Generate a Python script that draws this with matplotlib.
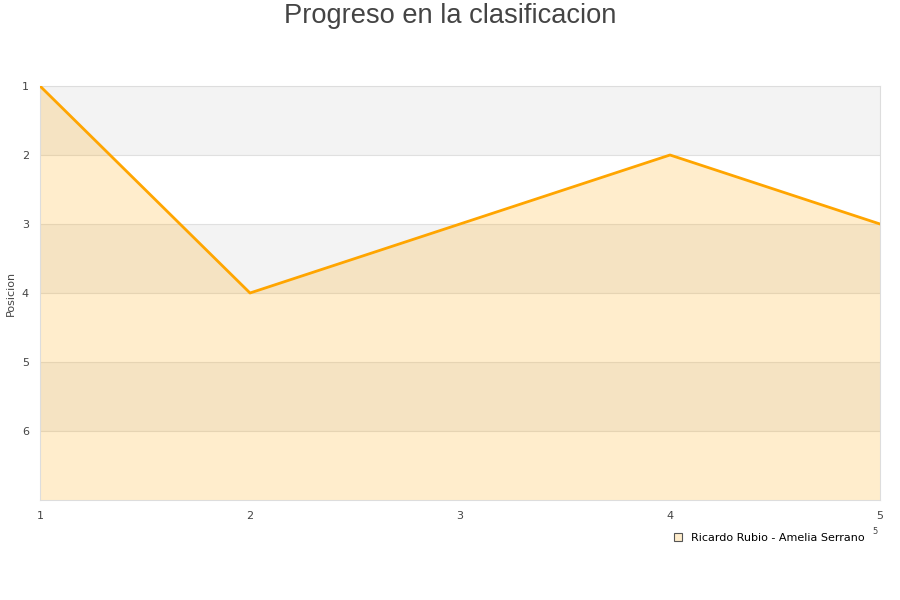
import numpy as np
import matplotlib.pyplot as plt

jornadas = [1, 2, 3, 4, 5]
posicion = [1, 4, 3, 2, 3]
serie = "Ricardo Rubio - Amelia Serrano"
y_ticks = [1, 2, 3, 4, 5, 6]

fig = plt.figure(figsize=(9, 6), dpi=100)
ax = fig.add_axes([40/900, 100/600, 840/900, 414/600])

# alternating bands
for i in range(1, 7, 2):
    ax.axhspan(i, i + 1, color='#f3f3f3', zorder=0, lw=0)
for t in y_ticks[1:]:
    ax.axhline(t, color='#e0e0e0', lw=0.8, zorder=1)

ax.fill_between(jornadas, posicion, 7, color='orange', alpha=0.2, lw=0, zorder=2)
ax.plot(jornadas, posicion, color='orange', lw=2, zorder=3)

ax.set_xlim(1, 5)
ax.set_ylim(7, 1)
ax.set_xticks(jornadas)
ax.set_yticks(y_ticks)
ax.tick_params(length=0, labelsize=8, labelcolor='#444444', pad=8)
for s in ax.spines.values():
    s.set_color('#dddddd')
ax.set_ylabel("Posicion", fontsize=8, color='#444444', va='center')
ax.yaxis.set_label_coords(-29/840, 0.5)

fig.text(0.5, 0.995, "Progreso en la clasificacion", ha='center', va='top',
         fontsize=19.6, color='#444444', family='Liberation Sans')

ax.legend([plt.Rectangle((0, 0), 1, 1, fc='#ffedcc', ec='#555555', lw=0.8)], [serie],
          loc='upper right', bbox_to_anchor=(0.994, -0.055), frameon=False,
          fontsize=8, handlelength=0.8, handleheight=0.8, handletextpad=0.8)
fig.text(875/900, 1 - 532/600, "5", fontsize=6, color='#444444', ha='center', va='center')

fig.savefig("out.png")
